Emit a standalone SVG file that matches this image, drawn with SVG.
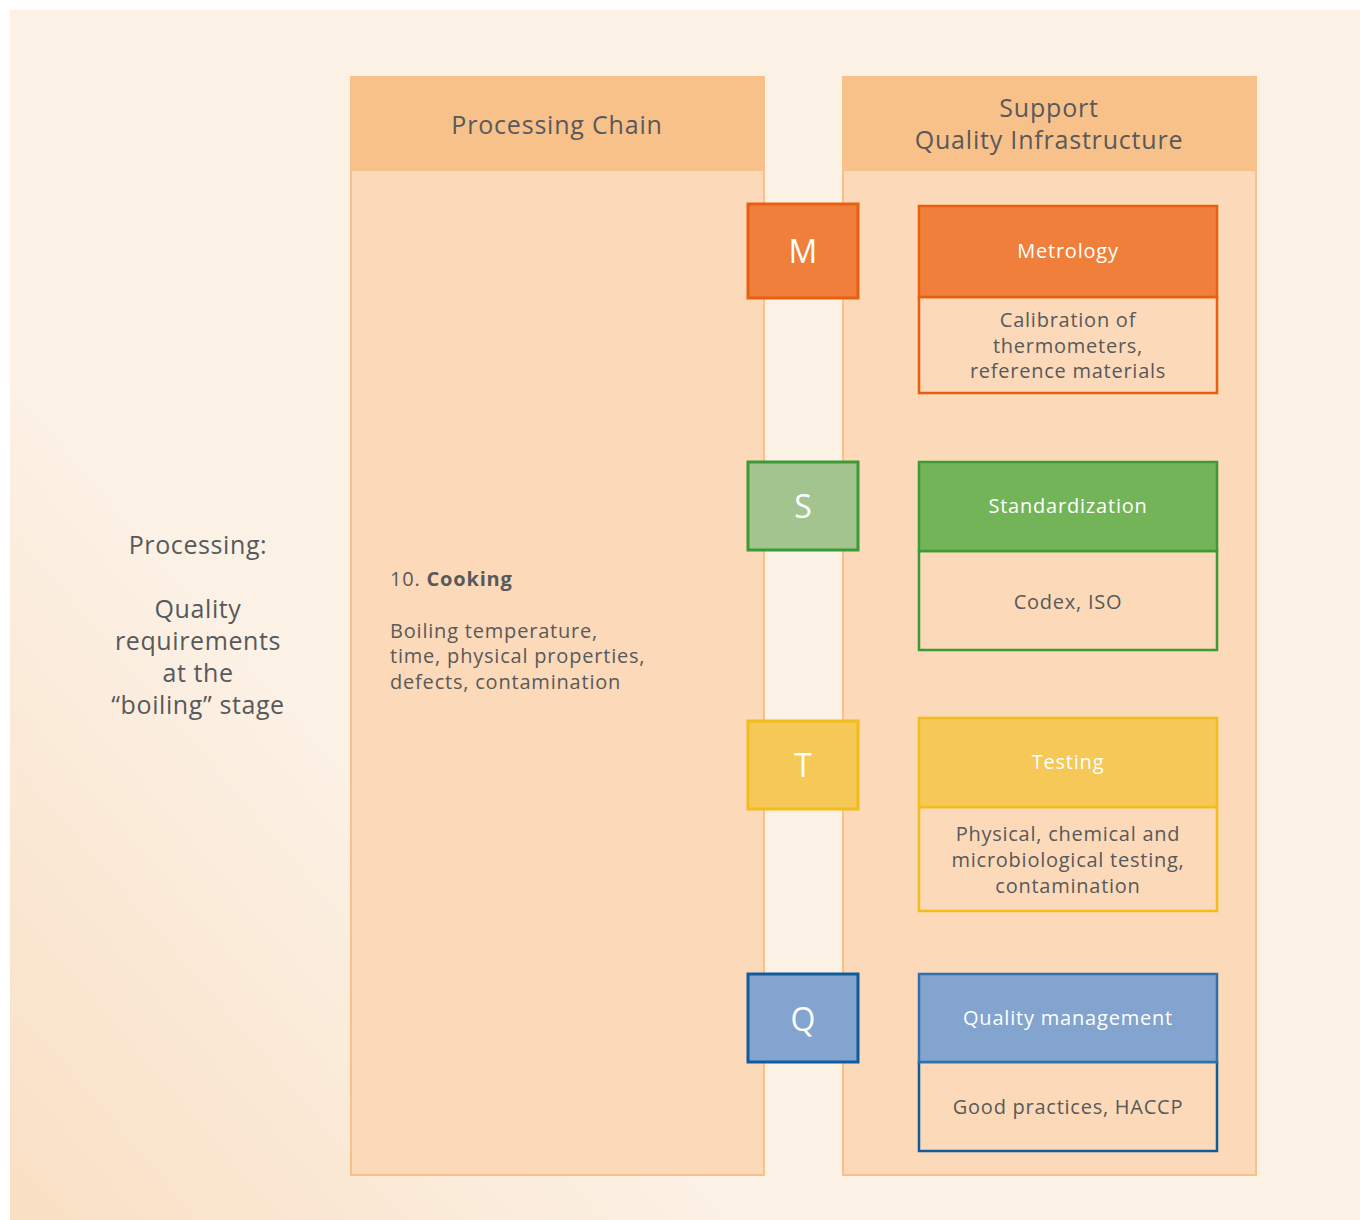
<svg xmlns="http://www.w3.org/2000/svg" width="1360" height="1220" viewBox="0 0 1360 1220">
<defs>
<linearGradient id="bg" x1="0" y1="1220" x2="420" y2="860" gradientUnits="userSpaceOnUse">
<stop offset="0" stop-color="#F9DFC3"/>
<stop offset="1" stop-color="#FCF1E5"/>
</linearGradient>
<style>
text{font-family:"Open Sans","Noto Sans","Liberation Sans",sans-serif;fill:#58595B}
.col{fill:#FCD9B8;stroke:#F9C18A;stroke-width:2}
.hdr{fill:#F9C18A}
.ht{font-size:25px;text-anchor:middle;letter-spacing:0.8px}
.lt{font-size:25px;text-anchor:middle;letter-spacing:0.6px}
.let{font-size:32px;fill:#fff;text-anchor:middle}
.bh{font-size:20px;fill:#fff;text-anchor:middle;letter-spacing:0.8px}
.bt{font-size:20px;text-anchor:middle;letter-spacing:0.75px}
.ct{font-size:20px;letter-spacing:0.8px}
.body{fill:#FCD9B8}
</style>
</defs>
<rect x="0" y="0" width="1360" height="1220" fill="#FFFFFF"/>
<rect x="10" y="10" width="1350" height="1210" fill="url(#bg)"/>

<g id="left-label">
<text class="lt" x="198" y="554">Processing:</text>
<text class="lt" x="198" y="618">Quality</text>
<text class="lt" x="198" y="650">requirements</text>
<text class="lt" x="198" y="682">at the</text>
<text class="lt" x="198" y="714">“boiling” stage</text>
</g>

<g id="processing-chain">
<rect class="col" x="351" y="77" width="413" height="1098"/>
<rect class="hdr" x="350" y="76" width="415" height="95"/>
<text class="ht" x="557" y="134">Processing Chain</text>
<text class="ct" x="390" y="586">10. <tspan font-weight="bold">Cooking</tspan></text>
<text class="ct" x="390" y="638">Boiling temperature,</text>
<text class="ct" x="390" y="663">time, physical properties,</text>
<text class="ct" x="390" y="689">defects, contamination</text>
</g>

<g id="support-qi">
<rect class="col" x="843" y="77" width="413" height="1098"/>
<rect class="hdr" x="842" y="76" width="415" height="95"/>
<text class="ht" x="1049" y="117">Support</text>
<text class="ht" x="1049" y="149">Quality Infrastructure</text>
</g>

<g id="M">
<rect x="748" y="204" width="110" height="94" fill="#EF7F3A" stroke="#E8600F" stroke-width="3"/>
<text class="let" x="803" y="263">M</text>
</g>
<g id="S">
<rect x="748" y="462" width="110" height="88" fill="#A3C48F" stroke="#3A9A33" stroke-width="3"/>
<text class="let" x="803" y="518">S</text>
</g>
<g id="T">
<rect x="748" y="721" width="110" height="88" fill="#F5C857" stroke="#F2BC1B" stroke-width="3"/>
<text class="let" x="803" y="777">T</text>
</g>
<g id="Q">
<rect x="748" y="974" width="110" height="88" fill="#82A4CF" stroke="#0F5C9C" stroke-width="3"/>
<text class="let" x="803" y="1031">Q</text>
</g>

<g id="metrology">
<rect class="body" x="919" y="297" width="298" height="96" stroke="#E8600F" stroke-width="2.5"/>
<rect x="919" y="206" width="298" height="91" fill="#EF7F3A" stroke="#E8600F" stroke-width="2.5"/>
<text class="bh" x="1068" y="258">Metrology</text>
<text class="bt" x="1068" y="327">Calibration of</text>
<text class="bt" x="1068" y="353">thermometers,</text>
<text class="bt" x="1068" y="378">reference materials</text>
</g>

<g id="standardization">
<rect class="body" x="919" y="551" width="298" height="99" stroke="#3A9A33" stroke-width="2.5"/>
<rect x="919" y="462" width="298" height="89" fill="#74B459" stroke="#3A9A33" stroke-width="2.5"/>
<text class="bh" x="1068" y="513">Standardization</text>
<text class="bt" x="1068" y="609">Codex, ISO</text>
</g>

<g id="testing">
<rect class="body" x="919" y="807" width="298" height="104" stroke="#F2BC1B" stroke-width="2.5"/>
<rect x="919" y="718" width="298" height="89" fill="#F5C857" stroke="#F2BC1B" stroke-width="2.5"/>
<text class="bh" x="1068" y="769">Testing</text>
<text class="bt" x="1068" y="841">Physical, chemical and</text>
<text class="bt" x="1068" y="867">microbiological testing,</text>
<text class="bt" x="1068" y="893">contamination</text>
</g>

<g id="quality-management">
<rect class="body" x="919" y="1062" width="298" height="89" stroke="#0F5C9C" stroke-width="2.5"/>
<rect x="919" y="974" width="298" height="88" fill="#82A4CF" stroke="#2E6FAE" stroke-width="2.5"/>
<text class="bh" x="1068" y="1025">Quality management</text>
<text class="bt" x="1068" y="1114">Good practices, HACCP</text>
</g>

<g id="connectors"></g>
</svg>
